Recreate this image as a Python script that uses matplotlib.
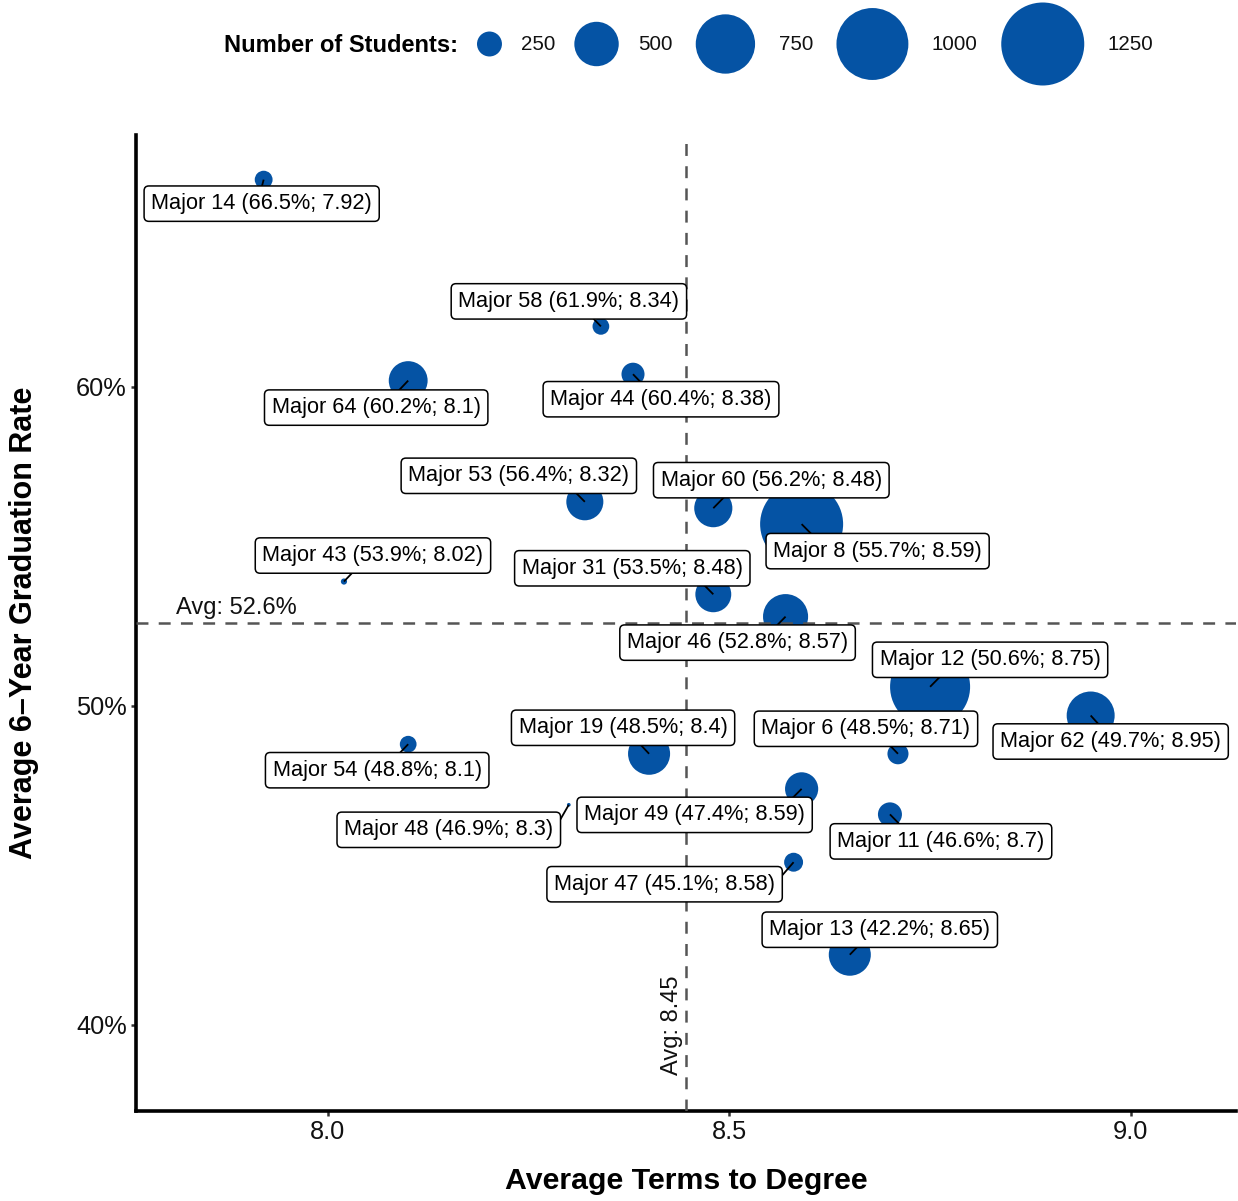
import numpy as np
import matplotlib.pyplot as plt

plt.rcParams['font.family'] = ['Liberation Sans', 'DejaVu Sans']
plt.rcParams['lines.scale_dashes'] = False

# data
majors = ['Major 14', 'Major 58', 'Major 64', 'Major 44', 'Major 53',
          'Major 60', 'Major 8', 'Major 43', 'Major 31', 'Major 46',
          'Major 12', 'Major 62', 'Major 6', 'Major 19', 'Major 54',
          'Major 48', 'Major 49', 'Major 11', 'Major 47', 'Major 13']
terms = [7.92, 8.34, 8.10, 8.38, 8.32, 8.48, 8.59, 8.02, 8.48, 8.57,
         8.75, 8.95, 8.71, 8.40, 8.10, 8.30, 8.59, 8.70, 8.58, 8.65]
grad_rate = [66.5, 61.9, 60.2, 60.4, 56.4, 56.2, 55.7, 53.9, 53.5, 52.8,
             50.6, 49.7, 48.5, 48.5, 48.8, 46.9, 47.4, 46.6, 45.1, 42.2]
students = [180, 170, 420, 230, 395, 410, 1250, 90, 380, 510,
            1180, 555, 210, 465, 170, 75, 345, 240, 190, 465]
legend_sizes = [250, 500, 750, 1000, 1250]
avg_terms = 8.446
avg_rate = 52.6

# label offsets in pixels (repel-style placement)
label_offsets = [(-2, -24), (-32, 25), (-32, -27), (28, -25), (-66, 26),
                 (58, 28), (76, -27), (29, 26), (-81, 26), (-48, -26),
                 (60, 27), (20, -26), (-32, 25), (-26, 26), (-31, -26),
                 (-120, -25), (-107, -26), (51, -27), (-129, -22), (30, 25)]

BLUE = '#0553a4'
DPI = 100


def diam_px(n):
  # sqrt scaling like ggplot's scale_size
  return -22 + 2.97 * np.sqrt(np.asarray(n, dtype=float))


def area_pt(n):
  return (diam_px(n) * 72 / DPI) ** 2


def connect_point(p, b):
  # point on box b (x0, y0, x1, y1) where the segment from p ends,
  # nudged toward the middle of the edge the way ggrepel does it
  px, py = p
  x0, y0, x1, y1 = b
  left = right = low = high = False
  if x0 <= px <= x1:
    ox = px
  elif px > x1:
    ox, right = x1, True
  else:
    ox, left = x0, True
  if y0 <= py <= y1:
    oy = py
  elif py > y1:
    oy, high = y1, True
  else:
    oy, low = y0, True
  midx, midy = (x0 + x1) / 2, (y0 + y1) / 2
  d = np.hypot(px - ox, py - oy)
  if (high or low) and not (left or right):
    alt = np.hypot(px - midx, py - oy)
    ox = ox + (midx - ox) * d / alt
  elif (left or right) and not (high or low):
    alt = np.hypot(px - ox, py - midy)
    oy = oy + (midy - oy) * d / alt
  elif (left or right) and (high or low):
    alt1 = np.hypot(px - midx, py - oy)
    alt2 = np.hypot(px - ox, py - midy)
    if alt1 < alt2:
      ox = ox + (midx - ox) * d / alt1
    else:
      oy = oy + (midy - oy) * d / alt2
  return ox, oy


fig = plt.figure(figsize=(12.38, 12.01), dpi=DPI)
ax = fig.add_axes([136 / 1238, 1 - 1111 / 1201, 1100 / 1238, 976 / 1201])

ax.scatter(terms, grad_rate, s=area_pt(students), color=BLUE,
           edgecolors='none', zorder=2)

dash = (0, (8.6, 7.4))
ax.axvline(avg_terms, color='#555555', lw=1.8, ls=dash, zorder=3)
ax.axhline(avg_rate, color='#555555', lw=1.8, ls=dash, zorder=3)

ax.annotate('Avg: %.1f%%' % avg_rate, xy=(0.036, avg_rate),
            xycoords=('axes fraction', 'data'), xytext=(0, 4),
            textcoords='offset pixels', ha='left', va='bottom',
            fontsize=17, color='#111111')
ax.annotate('Avg: %.2f' % avg_terms, xy=(avg_terms, 40), xytext=(-3, 0),
            textcoords='offset pixels', ha='right', va='center',
            rotation=90, fontsize=17, color='#111111')

anns = []
for name, x, y, off in zip(majors, terms, grad_rate, label_offsets):
  txt = '%s (%.1f%%; %g)' % (name, y, x)
  a = ax.annotate(txt, xy=(x, y), xytext=off, textcoords='offset pixels',
                  ha='center', va='center', fontsize=15.7, color='black',
                  bbox=dict(boxstyle='round,pad=0.33,rounding_size=0.22',
                            fc='white', ec='black', lw=1.1),
                  zorder=5)
  anns.append(a)

ax.set_xlim(7.761, 9.131)
ax.set_ylim(37.3, 67.9)
ax.set_xticks([8.0, 8.5, 9.0])
ax.set_xticklabels(['8.0', '8.5', '9.0'])
ax.set_yticks([40, 50, 60])
ax.set_yticklabels(['40%', '50%', '60%'])
ax.tick_params(length=3.6, width=1.8, color='#333333', pad=3,
               labelsize=18.3, labelcolor='#111111')

for s in ['top', 'right']:
  ax.spines[s].set_visible(False)
for s in ['left', 'bottom']:
  ax.spines[s].set_linewidth(2.6)
  ax.spines[s].set_color('black')

fig.text(686 / 1238, 1 - 1181 / 1201, 'Average Terms to Degree',
         ha='center', va='center', fontsize=21.8, fontweight='bold')
fig.text(24 / 1238, 1 - 623 / 1201, 'Average 6\u2013Year Graduation Rate',
         ha='center', va='center', rotation=90, fontsize=22,
         fontweight='bold')

# legend strip across the top, in pixel units
lax = fig.add_axes([0, 1 - 90 / 1201, 1, 90 / 1201])
lax.set_xlim(0, 1238)
lax.set_ylim(0, 90)
lax.axis('off')
yc = 46
lax.text(458, yc - 1, 'Number of Students:', ha='right', va='center',
         fontsize=17, fontweight='bold')
renderer = fig.canvas.get_renderer()
cursor = 458
for n in legend_sizes:
  r = diam_px(n) / 2
  gap = 19 if r < 26 else 23.5
  cx = cursor + gap + r
  lax.scatter([cx], [yc], s=area_pt(n), color=BLUE, edgecolors='none',
              clip_on=False)
  t = lax.text(cx + r + gap, yc - 1, str(n), ha='left', va='center',
               fontsize=14.8, color='#111111')
  w = t.get_window_extent(renderer).width
  cursor = cx + r + gap + w

# segments from each point to its label box
fig.canvas.draw()
inv = ax.transData.inverted()
for a, x, y in zip(anns, terms, grad_rate):
  bb = a.get_bbox_patch().get_window_extent(renderer)
  p = ax.transData.transform((x, y))
  e = connect_point(p, (bb.x0 + 1, bb.y0 + 1, bb.x1 - 1, bb.y1 - 1))
  x2, y2 = inv.transform(e)
  ax.plot([x, x2], [y, y2], color='black', lw=1.3, zorder=4,
          solid_capstyle='butt')

fig.savefig('out.png', dpi=DPI)
